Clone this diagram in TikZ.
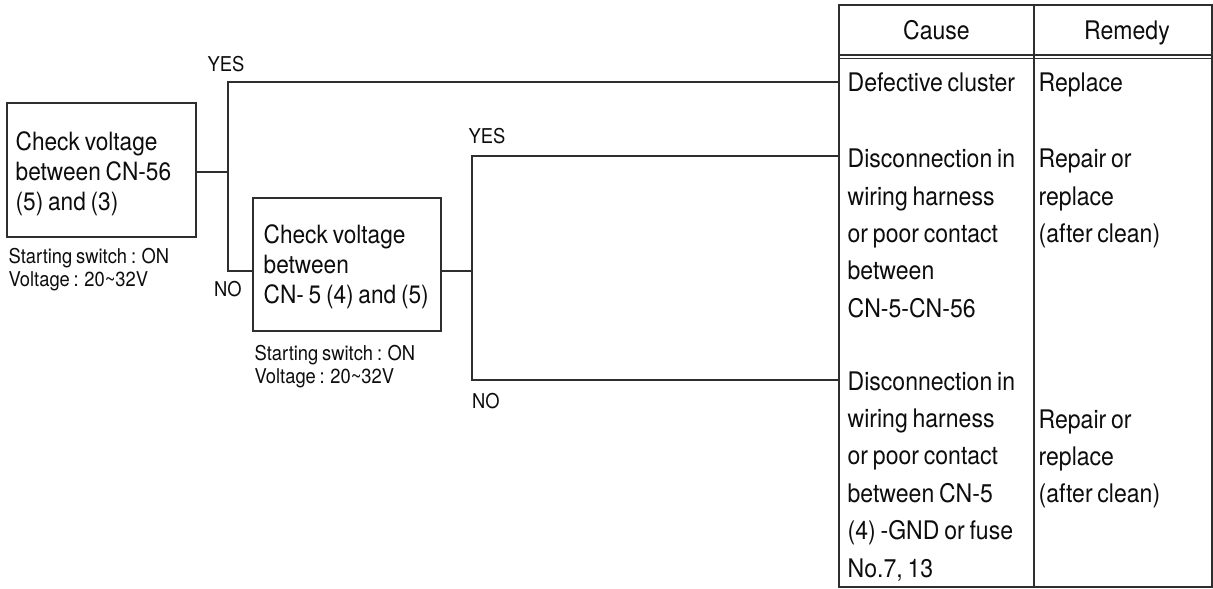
\documentclass[tikz,border=0pt]{standalone}
\usepackage{fontspec}
\setmainfont{TeX Gyre Heros}[FakeStretch=0.9,WordSpace=0.75]
\definecolor{linec}{gray}{0.18}
\definecolor{textc}{gray}{0.05}
\begin{document}
\begin{tikzpicture}[x=0.5pt,y=-0.5pt,line width=0.65pt,
  every node/.style={text=textc},
  checkbox/.style={draw=linec,inner sep=0pt},
  multi/.style={anchor=north west,inner sep=0pt,align=left},
  boxtext/.style={multi,font=\fontsize{12.6}{15}\selectfont},
  caption/.style={multi,font=\fontsize{10.2}{11.25}\selectfont},
  cell/.style={multi,font=\fontsize{12.8}{18.7}\selectfont},
  single/.style={anchor=base west,inner sep=0pt,font=\fontsize{12.8}{15}\selectfont},
  head/.style={anchor=base,inner sep=0pt,font=\fontsize{12.8}{15}\selectfont},
  answer/.style={anchor=base,inner sep=0pt,font=\fontsize{10.2}{12}\selectfont},
  conn/.style={draw=linec}]
\useasboundingbox (0,0) rectangle (1213,588);

% boxes
\node[checkbox,minimum width=94.5pt,minimum height=67pt] (box1) at (101.5,170) {};
\node[checkbox,minimum width=94pt,minimum height=66.5pt] (box2) at (347,264.5) {};
\node[boxtext] (box1txt) at (15,129) {\strut Check voltage\\between CN-56\\(5) and (3)};
\node[boxtext] (box2txt) at (263,222) {\strut Check voltage\\between\\CN- 5 (4) and (5)};

\node[caption] (cap1) at (8,247.3) {\strut Starting switch : ON\\Voltage : 20\textasciitilde 32V};
\node[caption] (cap2) at (254,344.3) {\strut Starting switch : ON\\Voltage : 20\textasciitilde 32V};

% table
\coordinate (tnw) at (839,5);
\coordinate (tse) at (1212,587);
\coordinate (tdiv) at (1034,5);
\coordinate (hl1) at (839,55);
\coordinate (hl2) at (839,58.5);
\draw[linec] (tnw) rectangle (tse);
\draw[linec] (tdiv) -- (tdiv |- tse);
\draw[linec] (hl1) -- (hl1 -| tse);
\draw[linec] (hl2) -- (hl2 -| tse);

\node[head] (hcause) at (936.5,40) {Cause};
\node[head] (hremedy) at (1127,40) {Remedy};

\node[single] (c1) at (847,91.5) {Defective cluster};
\node[single] (r1) at (1038,91.5) {Replace};
\node[cell] (c2) at (847,140.8) {\strut Disconnection in\\wiring harness\\or poor contact\\between\\CN-5-CN-56};
\node[cell] (r2) at (1038,140.8) {\strut Repair or\\replace\\(after clean)};
\node[cell] (c3) at (847,363.3) {\strut Disconnection in\\wiring harness\\or poor contact\\between CN-5\\(4) -GND or fuse\\No.7, 13};
\node[cell] (r3) at (1038,401.3) {\strut Repair or\\replace\\(after clean)};

% connector points
\coordinate (j1) at (228,172);
\coordinate (j2) at (472,271);
\coordinate (t1) at (839,82);
\coordinate (t2) at (839,156);
\coordinate (t3) at (839,380);

\draw[conn] (box1.east |- j1) -- (j1);
\draw[conn] (t1) -| (j1) |- (box2.west |- j2);
\draw[conn] (box2.east |- j2) -- (j2);
\draw[conn] (t2) -| (j2) |- (t3);

\node[answer] (yes1) at (226,71.7) {YES};
\node[answer] (no1) at (228,296.5) {NO};
\node[answer] (yes2) at (487,143.3) {YES};
\node[answer] (no2) at (486,408) {NO};
\end{tikzpicture}
\end{document}
